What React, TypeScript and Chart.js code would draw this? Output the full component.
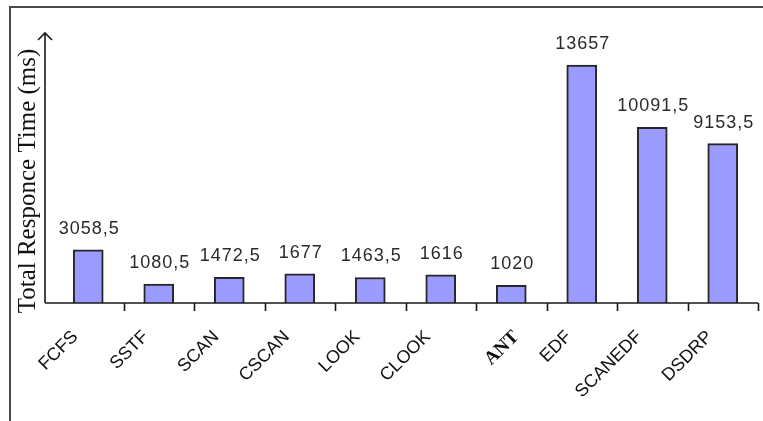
import React, { useEffect, useRef } from "react";
import { Chart, registerables } from "chart.js";

Chart.register(...registerables);

// Scheduling algorithms and their total response time (ms)
const categories = ["FCFS", "SSTF", "SCAN", "CSCAN", "LOOK", "CLOOK", "ANT", "EDF", "SCANEDF", "DSDRP"];
const responseTimes = [3058.5, 1080.5, 1472.5, 1677, 1463.5, 1616, 1020, 13657, 10091.5, 9153.5];
const yAxisTitle = "Total Responce Time (ms)";
const yMax = 15500;

const formatValue = (v: number) => String(v).replace(".", ",");

const decorPlugin = {
  id: "decor",
  beforeDraw(chart: any) {
    const { ctx, width, height } = chart;
    ctx.save();
    ctx.fillStyle = "#ffffff";
    ctx.fillRect(0, 0, width, height);
    // outer frame
    ctx.strokeStyle = "#4a4a4a";
    ctx.lineWidth = 2;
    ctx.beginPath();
    ctx.moveTo(10, height + 2);
    ctx.lineTo(10, 7);
    ctx.lineTo(width + 2, 7);
    ctx.stroke();
    ctx.restore();
  },
  afterDatasetsDraw(chart: any) {
    const { ctx, chartArea } = chart;
    const x = chart.scales.x;
    const y = chart.scales.y;
    const base = chartArea.bottom;
    const axisX = chartArea.left - 8;
    const half = (x.getPixelForValue(1) - x.getPixelForValue(0)) / 2;

    ctx.save();
    ctx.strokeStyle = "#1a1a1a";
    ctx.lineWidth = 1.6;

    // value axis with open arrow head
    ctx.beginPath();
    ctx.moveTo(axisX, base);
    ctx.lineTo(axisX, chartArea.top);
    ctx.moveTo(axisX - 7, chartArea.top + 7);
    ctx.lineTo(axisX, chartArea.top);
    ctx.lineTo(axisX + 7, chartArea.top + 7);
    ctx.stroke();

    // category axis and tick marks between categories
    ctx.beginPath();
    ctx.moveTo(axisX, base);
    ctx.lineTo(x.getPixelForValue(categories.length - 1) + half, base);
    for (let i = 1; i <= categories.length; i++) {
      const tx = Math.round(x.getPixelForValue(i - 1) + half) + 0.5;
      ctx.moveTo(tx, base);
      ctx.lineTo(tx, base + 8);
    }
    ctx.stroke();

    // value labels above the bars
    ctx.fillStyle = "#2a2a2a";
    ctx.font = '18px "Liberation Sans", Arial, sans-serif';
    (ctx as any).letterSpacing = "1px";
    ctx.textAlign = "center";
    ctx.textBaseline = "middle";
    responseTimes.forEach((v, i) => {
      ctx.fillText(formatValue(v), x.getPixelForValue(i) + 1, y.getPixelForValue(v) - 21);
    });
    (ctx as any).letterSpacing = "0px";

    // rotated category labels
    ctx.fillStyle = "#111111";
    ctx.textAlign = "right";
    categories.forEach((c, i) => {
      const isSerif = c === "ANT";
      ctx.font = isSerif
        ? 'bold 19px "Liberation Serif", "Times New Roman", serif'
        : '18px "Liberation Sans", Arial, sans-serif';
      const ax = x.getPixelForValue(i) + (isSerif ? 5 : -13);
      const ay = base + 31;
      ctx.save();
      ctx.translate(ax, ay);
      ctx.rotate(-Math.PI / 4);
      ctx.fillText(c, 0, 0);
      ctx.restore();
    });

    // value axis title
    ctx.fillStyle = "#111111";
    ctx.font = '25px "Liberation Serif", "Times New Roman", serif';
    ctx.textAlign = "center";
    ctx.save();
    ctx.translate(28, 181);
    ctx.rotate(-Math.PI / 2);
    ctx.fillText(yAxisTitle, 0, 0);
    ctx.restore();

    ctx.restore();
  },
};

export default function App() {
  const canvasRef = useRef<HTMLCanvasElement | null>(null);

  useEffect(() => {
    document.body.style.margin = "0";
    const canvas = canvasRef.current;
    if (!canvas) return;
    const chart = new Chart(canvas, {
      type: "bar",
      data: {
        labels: categories,
        datasets: [
          {
            data: responseTimes,
            backgroundColor: "#9a9aff",
            borderColor: "#262626",
            borderWidth: 2,
            barThickness: 30,
          },
        ],
      },
      options: {
        responsive: false,
        animation: false,
        layout: { padding: { left: 53, right: 5, top: 33, bottom: 118 } },
        plugins: {
          legend: { display: false },
          tooltip: { enabled: false },
          title: { display: false },
        },
        scales: {
          x: { display: false, offset: true },
          y: { display: false, min: 0, max: yMax },
        },
      },
      plugins: [decorPlugin],
    });
    return () => chart.destroy();
  }, []);

  return <canvas ref={canvasRef} width={763} height={421} style={{ display: "block" }} />;
}
